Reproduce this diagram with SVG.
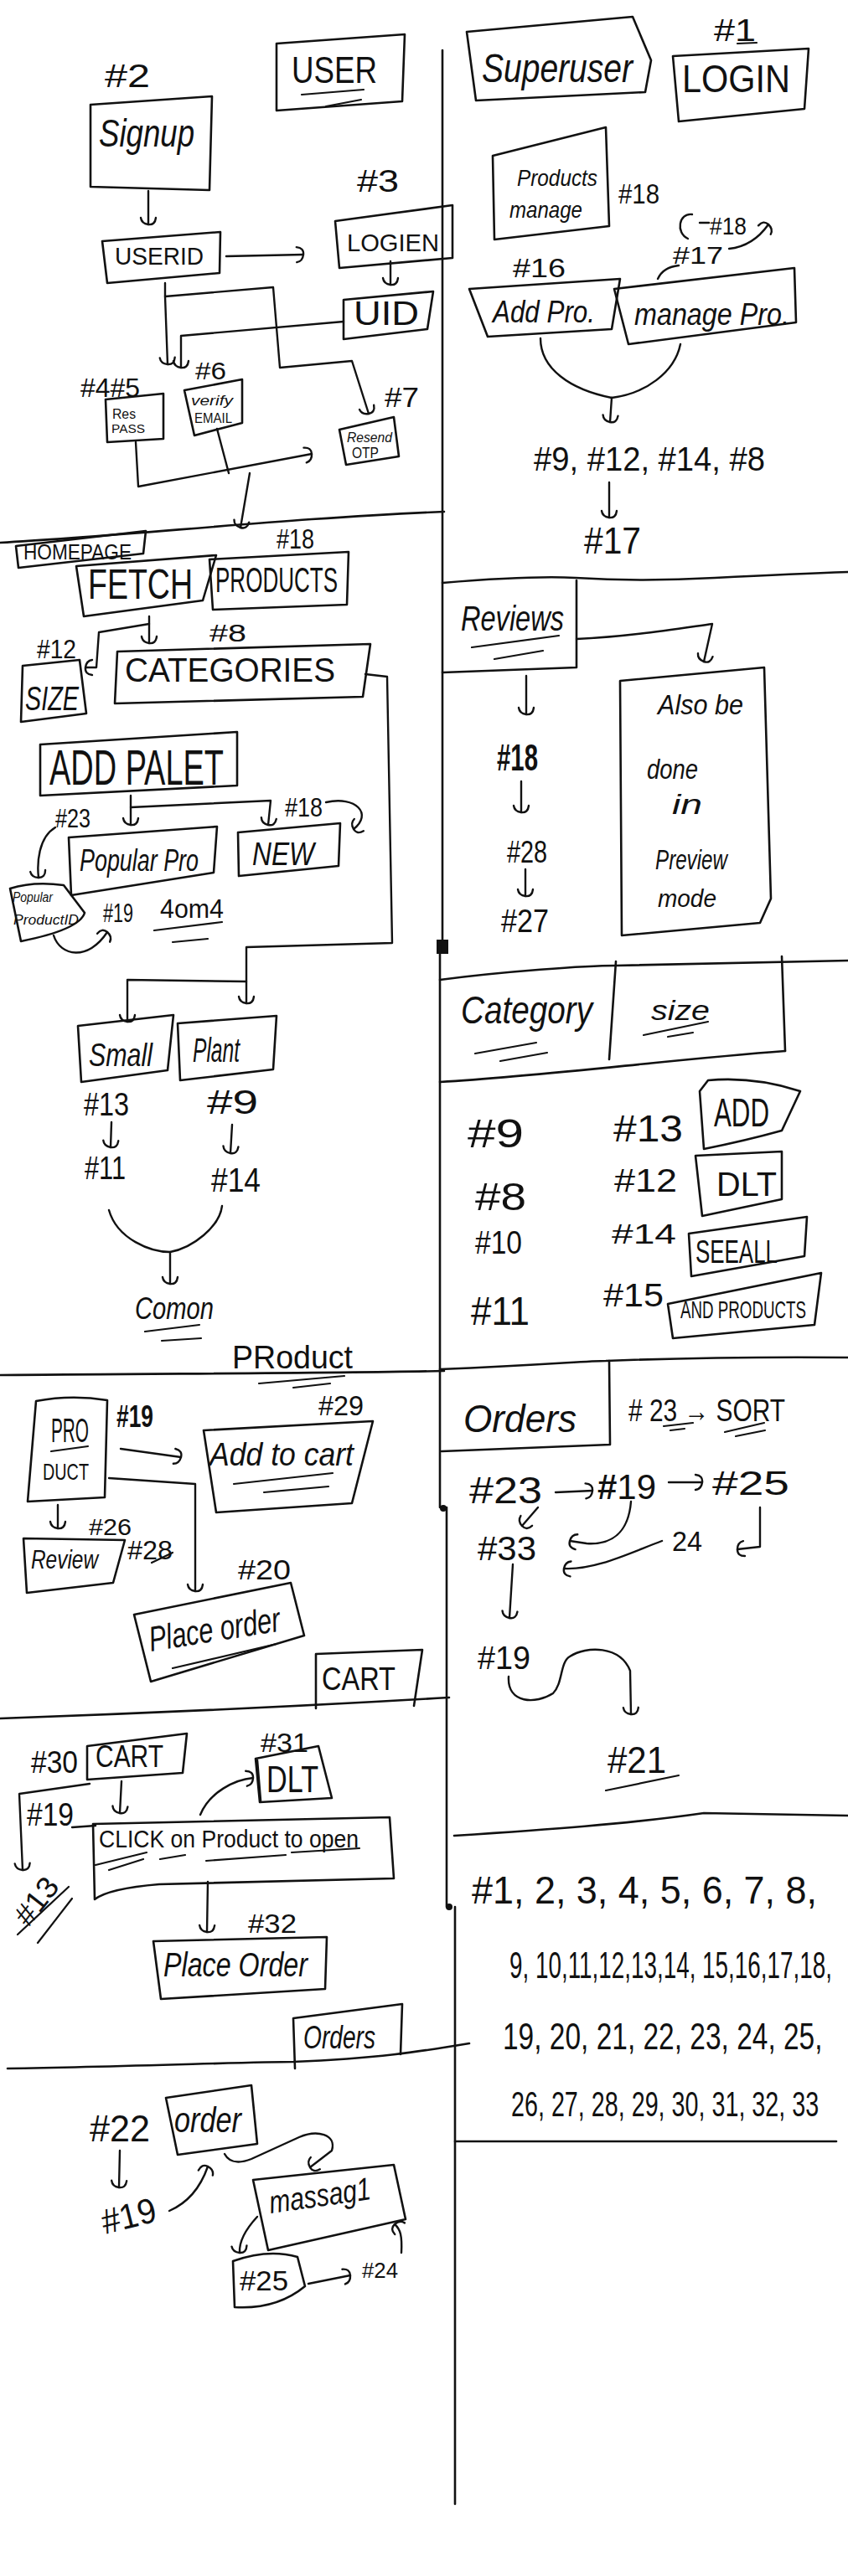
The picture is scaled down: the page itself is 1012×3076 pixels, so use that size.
<svg xmlns="http://www.w3.org/2000/svg" width="1012" height="3076" viewBox="0 0 1012 3076">
<defs>
<style>
.s{fill:none;stroke:#111;stroke-width:2.6;stroke-linecap:round;stroke-linejoin:round}
.c{fill:none;stroke:#111;stroke-width:2.4;stroke-linecap:round;stroke-linejoin:round}
.a{marker-end:url(#h)}
.u{fill:none;stroke:#111;stroke-width:2.2;stroke-linecap:round}
.t{font-family:"Liberation Sans",Arial,sans-serif;fill:#111}
.i{font-style:italic}
.b{font-weight:bold}
</style>
<marker id="h" viewBox="-12 -12 16 24" refX="0" refY="0" markerWidth="16" markerHeight="24" markerUnits="userSpaceOnUse" orient="auto" overflow="visible">
<path d="M-8 -9 Q1 -8 0 0 Q-1 8 -8 9" fill="none" stroke="#111" stroke-width="2.4" stroke-linecap="round"/>
</marker>
</defs>
<rect width="1012" height="3076" fill="#fff"/>

<g id="frame" class="s">
<path d="M528 60 L528 1130"/>
<rect x="521" y="1122" width="14" height="17" fill="#111" stroke="none"/>
<path d="M525 1130 L525 1800"/>
<circle cx="529" cy="1801" r="4" fill="#111" stroke="none"/>
<path d="M533 1800 L533 2277"/>
<circle cx="536" cy="2277" r="4" fill="#111" stroke="none"/>
<path d="M543 2277 L543 2990"/>
<path d="M0 648 C150 640 350 618 530 611"/>
<path d="M0 1642 C200 1640 400 1640 530 1637"/>
<path d="M0 2052 C200 2045 400 2035 536 2027"/>
<path d="M9 2470 C150 2468 300 2462 350 2462 C450 2458 500 2450 560 2440"/>
<path d="M528 696 C600 690 650 688 687 690 C750 694 800 693 853 690 C930 686 980 684 1012 683"/>
<path d="M525 1170 C600 1160 700 1153 735 1153 L1012 1147"/>
<path d="M735 1148 L727 1265"/>
<path d="M933 1142 L937 1255"/>
<path d="M525 1292 C650 1285 800 1265 937 1255"/>
<path d="M525 1635 C650 1630 700 1625 723 1625 C800 1622 900 1620 1012 1621"/>
<path d="M542 2192 C650 2185 750 2178 840 2165 L1012 2168"/>
<path d="M543 2557 L998 2557"/>
</g>

<g id="connectors">
<path class="c a" d="M177 228 L177 268"/>
<path class="c a" d="M270 306 L362 304"/>
<path class="c a" d="M466 312 L466 340"/>
<path class="c a" d="M197 338 L197 354 L200 435"/>
<path class="c a" d="M197 354 L326 343 L334 439 L420 431 L440 494"/>
<path class="c a" d="M410 384 L216 401 L216 439"/>
<path class="c a" d="M162 528 L165 581 L372 542"/>
<path class="c" d="M259 512 L273 565"/>
<path class="c a" d="M298 565 L287 630"/>
<path class="c a" d="M178 736 L178 768"/>
<path class="c a" d="M178 745 L118 755 L115 797 L102 797"/>
<path class="c a" d="M436 805 L462 808 L468 1126 L294 1131 L294 1198"/>
<path class="c a" d="M294 1172 L152 1170 L152 1220"/>
<path class="c a" d="M156 950 L156 985"/>
<path class="c a" d="M156 964 L323 956 L320 985"/>
<path class="c a" d="M66 988 C46 1000 44 1030 46 1048"/>
<path class="c a" d="M389 958 C425 950 445 972 422 990"/>
<path class="c a" d="M64 1117 C72 1142 105 1148 128 1113"/>
<path class="c a" d="M133 1340 L132 1370"/>
<path class="c a" d="M277 1343 L275 1377"/>
<path class="c" d="M130 1445 C140 1480 180 1495 203 1495 C230 1490 262 1465 265 1440"/>
<path class="c a" d="M203 1495 L203 1533"/>
<path class="c a" d="M144 1730 L216 1740"/>
<path class="c a" d="M130 1765 L233 1772 L233 1900"/>
<path class="c a" d="M69 1797 L69 1825"/>
<path class="c a" d="M145 2127 L143 2165"/>
<path class="c a" d="M107 2130 L23 2142 L27 2233"/>
<path class="c" d="M86 2182 L114 2180"/>
<path class="c a" d="M239 2167 C250 2140 280 2125 302 2123"/>
<path class="c a" d="M248 2247 L247 2307"/>
<path class="c a" d="M143 2568 L142 2612"/>
<path class="c a" d="M202 2640 C225 2630 240 2610 248 2587"/>
<path class="c a" d="M268 2572 C275 2585 290 2582 300 2578 L357 2552 C378 2543 402 2548 396 2568 L370 2588"/>
<path class="c a" d="M307 2647 C295 2660 285 2675 286 2690"/>
<path class="c a" d="M368 2727 L418 2717"/>
<path class="c a" d="M479 2690 C480 2670 478 2662 471 2656"/>
<path class="c a" d="M870 297 C890 295 905 285 917 268"/>
<path class="c" d="M785 333 C790 322 800 318 810 317"/>
<path class="c" d="M826 256 C810 254 806 278 821 285"/>
<path class="c" d="M835 266 L846 266"/>
<path class="c" d="M645 404 C645 440 680 465 730 475"/>
<path class="c" d="M812 411 C805 445 770 470 730 475"/>
<path class="c a" d="M730 475 L728 504"/>
<path class="c a" d="M727 576 L727 618"/>
<path class="c a" d="M628 807 L628 853"/>
<path class="c a" d="M622 933 L622 970"/>
<path class="c a" d="M627 1038 L627 1070"/>
<path class="c a" d="M688 763 C750 760 800 752 850 745 L840 790"/>
<path class="c a" d="M663 1782 L707 1780"/>
<path class="c a" d="M798 1770 L838 1770"/>
<path class="c a" d="M642 1800 L623 1822"/>
<path class="c a" d="M753 1793 C750 1830 730 1845 700 1843 L680 1840"/>
<path class="c a" d="M790 1840 C750 1855 710 1875 673 1873"/>
<path class="c a" d="M907 1800 L907 1847 L880 1850"/>
<path class="c a" d="M612 1868 L608 1932"/>
<path class="c a" d="M607 2002 C605 2035 640 2035 660 2022 C672 2010 668 1985 680 1978 C700 1965 740 1965 752 1995 L753 2047"/>
</g>

<g id="n2"><text class="t" x="125" y="104" font-size="38" textLength="54" lengthAdjust="spacingAndGlyphs">#2</text></g>
<g id="user-title"><path class="s" d="M330 52 L483 41 L480 121 L330 132 Z"/><text class="t" x="348" y="99" font-size="44" textLength="102" lengthAdjust="spacingAndGlyphs">USER</text><path class="u" d="M360 113 L434 107 M389 127 L431 119"/></g>
<g id="signup"><path class="s" d="M108 125 L253 115 L250 227 L108 223 Z"/><text class="t i" x="118" y="175" font-size="46" textLength="114" lengthAdjust="spacingAndGlyphs">Signup</text></g>
<g id="userid"><path class="s" d="M122 288 L263 277 L262 326 L128 338 Z"/><text class="t" x="137" y="316" font-size="30" textLength="106" lengthAdjust="spacingAndGlyphs">USERID</text></g>
<g id="n3"><text class="t" x="426" y="229" font-size="36" textLength="50" lengthAdjust="spacingAndGlyphs">#3</text></g>
<g id="login-user"><path class="s" d="M400 264 L540 245 L540 308 L405 320 Z"/><text class="t" x="414" y="300" font-size="30" textLength="110" lengthAdjust="spacingAndGlyphs">LOGIEN</text></g>
<g id="uid"><path class="s" d="M410 358 L517 348 L510 393 L410 405 Z"/><text class="t" x="422" y="388" font-size="40" textLength="78" lengthAdjust="spacingAndGlyphs">UID</text></g>
<g id="n45"><text class="t" x="96" y="474" font-size="32" textLength="71" lengthAdjust="spacingAndGlyphs">#4#5</text></g>
<g id="respass"><path class="s" d="M126 477 L195 470 L195 524 L128 528 Z"/><text class="t" x="134" y="500" font-size="16" textLength="28" lengthAdjust="spacingAndGlyphs">Res</text><text class="t" x="133" y="517" font-size="15" textLength="40" lengthAdjust="spacingAndGlyphs">PASS</text></g>
<g id="n6"><text class="t" x="233" y="453" font-size="30" textLength="37" lengthAdjust="spacingAndGlyphs">#6</text></g>
<g id="verify"><path class="s" d="M220 466 L289 453 L289 505 L232 520 Z"/><text class="t i" x="228" y="484" font-size="17" textLength="50" lengthAdjust="spacingAndGlyphs">verify</text><text class="t" x="232" y="505" font-size="16" textLength="45" lengthAdjust="spacingAndGlyphs">EMAIL</text></g>
<g id="n7"><text class="t" x="459" y="486" font-size="34" textLength="41" lengthAdjust="spacingAndGlyphs">#7</text></g>
<g id="resend"><path class="s" d="M405 513 L470 498 L476 545 L413 555 Z"/><text class="t i" x="414" y="528" font-size="17" textLength="54" lengthAdjust="spacingAndGlyphs">Resend</text><text class="t" x="420" y="547" font-size="18" textLength="32" lengthAdjust="spacingAndGlyphs">OTP</text></g>

<g id="homepage"><path class="s" d="M19 652 L174 634 L171 661 L22 678 Z"/><text class="t" x="28" y="668" font-size="26" textLength="129" lengthAdjust="spacingAndGlyphs">HOMEPAGE</text></g>
<g id="fetch"><path class="s" d="M91 676 L258 663 L242 717 L100 736 Z"/><text class="t" x="105" y="715" font-size="50" textLength="125" lengthAdjust="spacingAndGlyphs">FETCH</text></g>
<g id="products"><path class="s" d="M250 668 L416 659 L414 722 L254 728 Z"/><text class="t" x="257" y="707" font-size="42" textLength="146" lengthAdjust="spacingAndGlyphs">PRODUCTS</text></g>
<g id="n18a"><text class="t" x="330" y="655" font-size="34" textLength="45" lengthAdjust="spacingAndGlyphs">#18</text></g>
<g id="n12"><text class="t" x="44" y="786" font-size="32" textLength="47" lengthAdjust="spacingAndGlyphs">#12</text></g>
<g id="size"><path class="s" d="M27 795 L95 788 L103 852 L25 862 Z"/><text class="t i" x="30" y="848" font-size="40" textLength="64" lengthAdjust="spacingAndGlyphs">SIZE</text></g>
<g id="n8"><text class="t" x="250" y="766" font-size="30" textLength="44" lengthAdjust="spacingAndGlyphs">#8</text></g>
<g id="categories"><path class="s" d="M140 778 L442 769 L433 832 L137 840 Z"/><text class="t" x="149" y="814" font-size="40" textLength="251" lengthAdjust="spacingAndGlyphs">CATEGORIES</text></g>
<g id="addpalet"><path class="s" d="M48 889 L283 874 L283 938 L48 950 Z"/><text class="t" x="59" y="937" font-size="60" textLength="208" lengthAdjust="spacingAndGlyphs">ADD PALET</text></g>
<g id="n23"><text class="t" x="66" y="988" font-size="32" textLength="42" lengthAdjust="spacingAndGlyphs">#23</text></g>
<g id="n18b"><text class="t" x="340" y="975" font-size="32" textLength="45" lengthAdjust="spacingAndGlyphs">#18</text></g>
<g id="popularpro"><path class="s" d="M82 1000 L259 987 L255 1042 L85 1069 Z"/><text class="t i" x="95" y="1040" font-size="36" textLength="142" lengthAdjust="spacingAndGlyphs">Popular Pro</text></g>
<g id="new"><path class="s" d="M284 994 L406 983 L404 1034 L285 1046 Z"/><text class="t i" x="301" y="1033" font-size="38" textLength="74" lengthAdjust="spacingAndGlyphs">NEW</text></g>
<g id="popularproductid"><path class="s" d="M12 1061 Q40 1052 76 1057 L101 1090 Q95 1110 25 1124 Z"/><text class="t i" x="15" y="1077" font-size="16" textLength="48" lengthAdjust="spacingAndGlyphs">Popular</text><text class="t i" x="16" y="1104" font-size="17" textLength="78" lengthAdjust="spacingAndGlyphs">ProductID</text></g>
<g id="n19a"><text class="t" x="123" y="1101" font-size="32" textLength="36" lengthAdjust="spacingAndGlyphs">#19</text></g>
<g id="n4om4"><text class="t" x="191" y="1096" font-size="32" textLength="76" lengthAdjust="spacingAndGlyphs">4om4</text><path class="u" d="M184 1111 L265 1101 M206 1125 L248 1121"/></g>

<g id="small"><path class="s" d="M93 1225 L207 1212 L200 1278 L97 1292 Z"/><text class="t i" x="106" y="1273" font-size="38" textLength="76" lengthAdjust="spacingAndGlyphs">Small</text></g>
<g id="plant"><path class="s" d="M212 1222 L330 1213 L326 1277 L215 1290 Z"/><text class="t i" x="230" y="1268" font-size="40" textLength="56" lengthAdjust="spacingAndGlyphs">Plant</text></g>
<g id="n13a"><text class="t" x="100" y="1332" font-size="38" textLength="54" lengthAdjust="spacingAndGlyphs">#13</text></g>
<g id="n11a"><text class="t" x="101" y="1408" font-size="38" textLength="49" lengthAdjust="spacingAndGlyphs">#11</text></g>
<g id="n9a"><text class="t" x="247" y="1330" font-size="40" textLength="61" lengthAdjust="spacingAndGlyphs">#9</text></g>
<g id="n14a"><text class="t" x="252" y="1423" font-size="40" textLength="59" lengthAdjust="spacingAndGlyphs">#14</text></g>
<g id="comon"><text class="t i" x="161" y="1575" font-size="36" textLength="94" lengthAdjust="spacingAndGlyphs">Comon</text><path class="u" d="M173 1590 L238 1582 M193 1601 L240 1598"/></g>
<g id="product-title"><text class="t" x="277" y="1634" font-size="38" textLength="144" lengthAdjust="spacingAndGlyphs">PRoduct</text><path class="u" d="M309 1652 L411 1643 M350 1657 L394 1652"/></g>

<g id="product"><path class="s" d="M43 1673 Q85 1665 128 1672 L125 1788 L33 1793 Z"/><text class="t" x="61" y="1722" font-size="40" textLength="45" lengthAdjust="spacingAndGlyphs">PRO</text><path class="u" d="M61 1733 L105 1727"/><text class="t" x="51" y="1767" font-size="28" textLength="55" lengthAdjust="spacingAndGlyphs">DUCT</text></g>
<g id="n19b"><text class="t b" x="139" y="1704" font-size="36" textLength="44" lengthAdjust="spacingAndGlyphs">#19</text></g>
<g id="n29"><text class="t" x="380" y="1690" font-size="34" textLength="54" lengthAdjust="spacingAndGlyphs">#29</text></g>
<g id="addtocart"><path class="s" d="M243 1708 L445 1697 L420 1795 L258 1806 Z"/><text class="t i" x="250" y="1750" font-size="38" textLength="172" lengthAdjust="spacingAndGlyphs">Add to cart</text><path class="u" d="M279 1772 L397 1759 M315 1782 L392 1775"/></g>
<g id="n26"><text class="t" x="106" y="1833" font-size="28" textLength="51" lengthAdjust="spacingAndGlyphs">#26</text></g>
<g id="review"><path class="s" d="M28 1837 L149 1839 L135 1890 L32 1902 Z"/><text class="t i" x="37" y="1873" font-size="32" textLength="80" lengthAdjust="spacingAndGlyphs">Review</text></g>
<g id="n28a"><text class="t" x="152" y="1862" font-size="32" textLength="54" lengthAdjust="spacingAndGlyphs">#28</text><path class="u" d="M181 1866 L206 1854"/></g>
<g id="n20"><text class="t" x="284" y="1886" font-size="34" textLength="63" lengthAdjust="spacingAndGlyphs">#20</text></g>
<g id="placeorder1"><path class="s" d="M160 1928 L347 1890 L363 1953 L180 2008 Z"/><text class="t i" x="180" y="1972" font-size="42" textLength="158" lengthAdjust="spacingAndGlyphs" transform="rotate(-9 180 1972)">Place order</text><path class="u" d="M206 1992 L330 1963"/></g>
<g id="cart-title"><path class="s" d="M377 2040 L377 1975 L504 1970 L494 2037"/><text class="t" x="384" y="2018" font-size="38" textLength="88" lengthAdjust="spacingAndGlyphs">CART</text></g>

<g id="n30"><text class="t" x="37" y="2117" font-size="36" textLength="56" lengthAdjust="spacingAndGlyphs">#30</text></g>
<g id="cart"><path class="s" d="M104 2085 L223 2070 L218 2117 L104 2125 Z"/><text class="t" x="114" y="2110" font-size="36" textLength="81" lengthAdjust="spacingAndGlyphs">CART</text></g>
<g id="n31"><text class="t" x="311" y="2092" font-size="32" textLength="57" lengthAdjust="spacingAndGlyphs">#31</text></g>
<g id="dlt1"><path class="s" d="M305 2100 L380 2085 L396 2147 L310 2152 Z"/><path class="s" d="M307 2102 L311 2150" stroke-width="4"/><text class="t" x="318" y="2140" font-size="44" textLength="62" lengthAdjust="spacingAndGlyphs">DLT</text></g>
<g id="n19c"><text class="t" x="32" y="2180" font-size="38" textLength="56" lengthAdjust="spacingAndGlyphs">#19</text></g>
<g id="n13c"><text class="t" x="34" y="2302" font-size="36" textLength="62" lengthAdjust="spacingAndGlyphs" transform="rotate(-52 34 2302)">#13</text><path class="u" d="M21 2310 L82 2253 M45 2320 L86 2267"/></g>
<g id="click"><path class="s" d="M111 2178 L465 2170 L470 2243 L190 2250 Q130 2255 113 2268 Z"/><text class="t" x="118" y="2206" font-size="30" textLength="310" lengthAdjust="spacingAndGlyphs">CLICK on Product to open</text><path class="u" d="M114 2227 L175 2212 M130 2233 L171 2220 M191 2220 L221 2215 M246 2222 L341 2215 M348 2212 L429 2207"/></g>
<g id="n32"><text class="t" x="296" y="2308" font-size="32" textLength="58" lengthAdjust="spacingAndGlyphs">#32</text></g>
<g id="placeorder2"><path class="s" d="M183 2318 L390 2313 L388 2375 L192 2387 Z"/><text class="t i" x="195" y="2360" font-size="40" textLength="172" lengthAdjust="spacingAndGlyphs">Place Order</text></g>
<g id="orders-title"><path class="s" d="M352 2470 L350 2410 L480 2393 L478 2453"/><text class="t i" x="362" y="2446" font-size="38" textLength="86" lengthAdjust="spacingAndGlyphs">Orders</text></g>

<g id="n22"><text class="t" x="107" y="2557" font-size="44" textLength="72" lengthAdjust="spacingAndGlyphs">#22</text></g>
<g id="order"><path class="s" d="M198 2505 L300 2490 L307 2560 L212 2573 Z"/><text class="t i" x="208" y="2546" font-size="42" textLength="80" lengthAdjust="spacingAndGlyphs">order</text></g>
<g id="n19d"><text class="t" x="125" y="2668" font-size="42" textLength="66" lengthAdjust="spacingAndGlyphs" transform="rotate(-14 125 2668)">#19</text></g>
<g id="message"><path class="s" d="M302 2603 L470 2585 L484 2650 L320 2687 Z"/><text class="t i" x="323" y="2643" font-size="38" textLength="122" lengthAdjust="spacingAndGlyphs" transform="rotate(-8 323 2643)">massag1</text></g>
<g id="n25b"><path class="s" d="M278 2700 Q320 2685 355 2695 L364 2730 Q330 2758 280 2755 Z"/><text class="t" x="286" y="2735" font-size="34" textLength="58" lengthAdjust="spacingAndGlyphs">#25</text></g>
<g id="n24b"><text class="t" x="432" y="2720" font-size="26" textLength="43" lengthAdjust="spacingAndGlyphs">#24</text></g>

<g id="superuser"><path class="s" d="M557 38 L755 20 L777 72 L770 110 L568 120 Z"/><text class="t i" x="575" y="98" font-size="48" textLength="180" lengthAdjust="spacingAndGlyphs">Superuser</text></g>
<g id="n1"><text class="t" x="852" y="49" font-size="36" textLength="50" lengthAdjust="spacingAndGlyphs">#1</text><path class="u" d="M880 52 L903 51"/></g>
<g id="login"><path class="s" d="M803 67 L965 58 L960 130 L810 145 Z"/><text class="t" x="814" y="110" font-size="46" textLength="129" lengthAdjust="spacingAndGlyphs">LOGIN</text></g>
<g id="productsmanage"><path class="s" d="M588 186 L723 152 L727 270 L590 286 Z"/><text class="t i" x="617" y="222" font-size="28" textLength="96" lengthAdjust="spacingAndGlyphs">Products</text><text class="t i" x="608" y="260" font-size="28" textLength="87" lengthAdjust="spacingAndGlyphs">manage</text></g>
<g id="n18c"><text class="t" x="738" y="243" font-size="34" textLength="49" lengthAdjust="spacingAndGlyphs">#18</text></g>
<g id="n18d"><text class="t" x="847" y="280" font-size="30" textLength="44" lengthAdjust="spacingAndGlyphs">#18</text></g>
<g id="n17a"><text class="t" x="803" y="315" font-size="30" textLength="60" lengthAdjust="spacingAndGlyphs">#17</text></g>
<g id="n16"><text class="t" x="612" y="331" font-size="32" textLength="63" lengthAdjust="spacingAndGlyphs">#16</text></g>
<g id="addpro"><path class="s" d="M560 345 L740 333 L730 393 L582 402 Z"/><text class="t i" x="588" y="385" font-size="36" textLength="122" lengthAdjust="spacingAndGlyphs">Add Pro.</text></g>
<g id="managepro"><path class="s" d="M733 345 L948 320 L950 385 L750 411 Z"/><text class="t i" x="757" y="388" font-size="36" textLength="185" lengthAdjust="spacingAndGlyphs">manage Pro.</text></g>
<g id="list1"><text class="t" x="637" y="562" font-size="40" textLength="276" lengthAdjust="spacingAndGlyphs">#9, #12, #14, #8</text></g>
<g id="n17b"><text class="t" x="697" y="661" font-size="44" textLength="68" lengthAdjust="spacingAndGlyphs">#17</text></g>

<g id="reviews"><path class="s" d="M528 803 L688 797 L688 693"/><text class="t i" x="550" y="753" font-size="42" textLength="123" lengthAdjust="spacingAndGlyphs">Reviews</text><path class="u" d="M563 773 L667 759 M590 787 L648 777"/></g>
<g id="n18e"><text class="t b" x="593" y="920" font-size="44" textLength="49" lengthAdjust="spacingAndGlyphs">#18</text></g>
<g id="n28b"><text class="t" x="605" y="1030" font-size="36" textLength="48" lengthAdjust="spacingAndGlyphs">#28</text></g>
<g id="n27"><text class="t" x="598" y="1113" font-size="38" textLength="57" lengthAdjust="spacingAndGlyphs">#27</text></g>
<g id="alsobox"><path class="s" d="M740 813 L912 797 L920 1073 L907 1102 L742 1117 Z"/>
<text class="t i" x="785" y="853" font-size="34" textLength="102" lengthAdjust="spacingAndGlyphs">Also be</text>
<text class="t i" x="772" y="930" font-size="34" textLength="61" lengthAdjust="spacingAndGlyphs">done</text>
<text class="t i" x="802" y="972" font-size="34" textLength="36" lengthAdjust="spacingAndGlyphs">in</text>
<text class="t i" x="782" y="1038" font-size="34" textLength="86" lengthAdjust="spacingAndGlyphs">Preview</text>
<text class="t i" x="785" y="1083" font-size="30" textLength="70" lengthAdjust="spacingAndGlyphs">mode</text></g>

<g id="category"><text class="t i" x="550" y="1222" font-size="46" textLength="157" lengthAdjust="spacingAndGlyphs">Category</text><path class="u" d="M567 1258 L640 1245 M597 1267 L653 1257"/></g>
<g id="size-head"><text class="t i" x="777" y="1218" font-size="34" textLength="70" lengthAdjust="spacingAndGlyphs">size</text><path class="u" d="M768 1236 L845 1220 M797 1238 L827 1233"/></g>
<g id="n9b"><text class="t" x="558" y="1370" font-size="48" textLength="67" lengthAdjust="spacingAndGlyphs">#9</text></g>
<g id="n13b"><text class="t" x="732" y="1363" font-size="44" textLength="83" lengthAdjust="spacingAndGlyphs">#13</text></g>
<g id="add"><path class="s" d="M845 1290 Q900 1285 955 1303 L933 1350 Q890 1362 840 1372 L835 1303 Z"/><text class="t" x="852" y="1345" font-size="48" textLength="66" lengthAdjust="spacingAndGlyphs">ADD</text></g>
<g id="n8b"><text class="t" x="567" y="1445" font-size="46" textLength="61" lengthAdjust="spacingAndGlyphs">#8</text></g>
<g id="n12b"><text class="t" x="733" y="1423" font-size="38" textLength="75" lengthAdjust="spacingAndGlyphs">#12</text></g>
<g id="dlt2"><path class="s" d="M830 1380 L933 1375 L933 1432 L838 1452 Z"/><text class="t" x="855" y="1428" font-size="40" textLength="72" lengthAdjust="spacingAndGlyphs">DLT</text></g>
<g id="n10"><text class="t" x="567" y="1497" font-size="38" textLength="56" lengthAdjust="spacingAndGlyphs">#10</text></g>
<g id="n14b"><text class="t" x="730" y="1485" font-size="34" textLength="77" lengthAdjust="spacingAndGlyphs">#14</text></g>
<g id="seeall"><path class="s" d="M822 1473 L963 1453 L960 1500 L825 1524 Z"/><text class="t" x="830" y="1508" font-size="38" textLength="98" lengthAdjust="spacingAndGlyphs">SEEALL</text></g>
<g id="n11b"><text class="t" x="562" y="1582" font-size="48" textLength="70" lengthAdjust="spacingAndGlyphs">#11</text></g>
<g id="n15"><text class="t" x="720" y="1560" font-size="38" textLength="72" lengthAdjust="spacingAndGlyphs">#15</text></g>
<g id="andproducts"><path class="s" d="M797 1557 L980 1520 L972 1582 L803 1598 Z"/><text class="t" x="0" y="0" font-size="30" textLength="240" lengthAdjust="spacingAndGlyphs" transform="translate(812 1574) scale(0.625 1)">AND PRODUCTS</text></g>

<g id="orders2"><path class="s" d="M527 1733 L728 1725 L727 1625"/><text class="t i" x="553" y="1710" font-size="46" textLength="135" lengthAdjust="spacingAndGlyphs">Orders</text></g>
<g id="sort"><text class="t" x="750" y="1697" font-size="36" textLength="187" lengthAdjust="spacingAndGlyphs"># 23 → SORT</text><path class="u" d="M792 1703 L827 1699 M800 1708 L817 1706 M865 1710 L912 1699 M878 1715 L913 1708"/></g>
<g id="n23b"><text class="t" x="560" y="1795" font-size="44" textLength="87" lengthAdjust="spacingAndGlyphs">#23</text></g>
<g id="n19e"><text class="t" x="713" y="1790" font-size="42" textLength="70" lengthAdjust="spacingAndGlyphs"><tspan class="b">#</tspan>19</text></g>
<g id="n25a"><text class="t" x="850" y="1785" font-size="40" textLength="92" lengthAdjust="spacingAndGlyphs">#25</text></g>
<g id="n33"><text class="t" x="570" y="1863" font-size="40" textLength="70" lengthAdjust="spacingAndGlyphs">#33</text></g>
<g id="n24a"><text class="t" x="802" y="1852" font-size="34" textLength="36" lengthAdjust="spacingAndGlyphs">24</text></g>
<g id="n19f"><text class="t" x="570" y="1993" font-size="38" textLength="63" lengthAdjust="spacingAndGlyphs">#19</text></g>
<g id="n21"><text class="t" x="725" y="2117" font-size="44" textLength="70" lengthAdjust="spacingAndGlyphs">#21</text><path class="u" d="M723 2138 L810 2120"/></g>

<g id="numbers">
<text class="t" x="563" y="2273" font-size="46" textLength="412" lengthAdjust="spacingAndGlyphs">#1, 2, 3, 4, 5, 6, 7, 8,</text>
<text class="t" x="0" y="0" font-size="44" textLength="611" lengthAdjust="spacingAndGlyphs" transform="translate(608 2362) scale(0.63 1)">9, 10,11,12,13,14, 15,16,17,18,</text>
<text class="t" x="0" y="0" font-size="44" textLength="502" lengthAdjust="spacingAndGlyphs" transform="translate(600 2447) scale(0.76 1)">19, 20, 21, 22, 23, 24, 25,</text>
<text class="t" x="0" y="0" font-size="42" textLength="540" lengthAdjust="spacingAndGlyphs" transform="translate(610 2527) scale(0.68 1)">26, 27, 28, 29, 30, 31, 32, 33</text>
</g>
</svg>
